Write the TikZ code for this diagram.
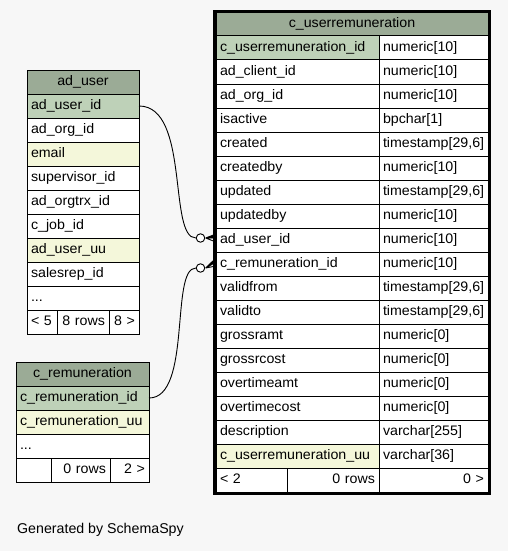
\documentclass[tikz,border=0pt]{standalone}
\usepackage{fontspec}
\setmainfont{Liberation Sans}
\newfontfamily\tblfont{Liberation Sans}[FakeStretch=1.03]
\usetikzlibrary{calc}
\definecolor{bgc}{HTML}{F7F7F7}
\definecolor{headc}{HTML}{9BAB96}
\definecolor{pkc}{HTML}{BED1B8}
\definecolor{idxc}{HTML}{F4F7DA}
\tikzset{
  cellst/.style={draw=black,line width=1pt,anchor=north west,inner xsep=4pt,inner ysep=0pt,outer sep=0pt,font=\tblfont\fontsize{13.8}{16}\selectfont},
  conn/.style={draw=black,line width=0.9pt},
  ringst/.style={circle,draw=black,fill=white,line width=0.9pt,minimum size=8.5pt,inner sep=0pt},
}
% name, x1, y1, x2, y2, fill, align, text
\newcommand\cellbox[8]{%
  \pgfmathsetmacro\cbw{#4-#2}\pgfmathsetmacro\cbh{#5-#3}\pgfmathsetmacro\cbt{#4-#2-8}%
  \node[cellst,fill=#6,minimum width=\cbw pt,minimum height=\cbh pt,text width=\cbt pt,align=#7] (#1) at (#2,#3) {\strut #8};}
\begin{document}
\begin{tikzpicture}[x=1pt,y=-1pt]
\fill[bgc] (0,0) rectangle (508,551);
\useasboundingbox (0,0) rectangle (508,551);
% ---------- ad_user ----------
\cellbox{ah}{27}{70}{139}{94}{headc}{center}{ad\_user}
\cellbox{a1}{27}{94}{139}{118}{pkc}{left}{ad\_user\_id}
\cellbox{a2}{27}{118}{139}{142}{white}{left}{ad\_org\_id}
\cellbox{a3}{27}{142}{139}{166}{idxc}{left}{email}
\cellbox{a4}{27}{166}{139}{190}{white}{left}{supervisor\_id}
\cellbox{a5}{27}{190}{139}{214}{white}{left}{ad\_orgtrx\_id}
\cellbox{a6}{27}{214}{139}{238}{white}{left}{c\_job\_id}
\cellbox{a7}{27}{238}{139}{262}{idxc}{left}{ad\_user\_uu}
\cellbox{a8}{27}{262}{139}{286}{white}{left}{salesrep\_id}
\cellbox{a9}{27}{286}{139}{310}{white}{left}{...}
\cellbox{af1}{27}{310}{57}{334}{white}{left}{< 5}
\cellbox{af2}{57}{310}{109}{334}{white}{right}{8 rows}
\cellbox{af3}{109}{310}{139}{334}{white}{right}{8 >}
% ---------- c_remuneration ----------
\cellbox{rh}{16}{362}{149}{386}{headc}{center}{c\_remuneration}
\cellbox{r1}{16}{386}{149}{410}{pkc}{left}{c\_remuneration\_id}
\cellbox{r2}{16}{410}{149}{434}{idxc}{left}{c\_remuneration\_uu}
\cellbox{r3}{16}{434}{149}{458}{white}{left}{...}
\cellbox{rf1}{16}{458}{51}{482}{white}{left}{}
\cellbox{rf2}{51}{458}{110}{482}{white}{right}{0 rows}
\cellbox{rf3}{110}{458}{149}{482}{white}{right}{2 >}
% ---------- c_userremuneration ----------
\draw[line width=3pt] (214.5,11.5) rectangle (489.5,493.5);
\cellbox{mh}{216}{13}{488}{36}{headc}{center}{c\_userremuneration}
\foreach \nm/\ty/\fc [count=\i from 0] in {
  c\_userremuneration\_id/numeric[10]/pkc,
  ad\_client\_id/numeric[10]/white,
  ad\_org\_id/numeric[10]/white,
  isactive/bpchar[1]/white,
  created/{timestamp[29,6]}/white,
  createdby/numeric[10]/white,
  updated/{timestamp[29,6]}/white,
  updatedby/numeric[10]/white,
  ad\_user\_id/numeric[10]/white,
  c\_remuneration\_id/numeric[10]/white,
  validfrom/{timestamp[29,6]}/white,
  validto/{timestamp[29,6]}/white,
  grossramt/numeric[0]/white,
  grossrcost/numeric[0]/white,
  overtimeamt/numeric[0]/white,
  overtimecost/numeric[0]/white,
  description/varchar[255]/white,
  c\_userremuneration\_uu/varchar[36]/idxc}{
  \pgfmathsetmacro\ya{36+24*\i}\pgfmathsetmacro\yb{60+24*\i}
  \cellbox{mn\i}{216}{\ya}{379}{\yb}{\fc}{left}{\nm}
  \cellbox{mt\i}{379}{\ya}{488}{\yb}{white}{left}{\ty}
}
\cellbox{mf1}{216}{468}{287}{492}{white}{left}{< 2}
\cellbox{mf2}{287}{468}{379}{492}{white}{right}{0 rows}
\cellbox{mf3}{379}{468}{488}{492}{white}{right}{0 >}
% ---------- connectors ----------
\node[ringst] (o1) at (200.5,238) {};
\node[ringst] (o2) at (200.5,268) {};
\draw[conn] (a1.east) .. controls (190,106) and (168,238) .. (o1.west);
\draw[conn] (r1.east) .. controls (192,398) and (170,268) .. (o2.west);
\coordinate (k1) at ($(o1.east)+(0.5,0)$);
\coordinate (k2) at ($(o2.east)+(0.5,0)$);
\fill[black] (k1) -- ($(mn8.west)+(0,-6)$) -- ($(mn8.west)+(0,-2)$) -- cycle;
\draw[conn] (k1) -- ($(mn8.west)+(0,-6)$) (k1) -- ($(mn8.west)+(0,-2)$) (k1) -- ($(mn8.west)+(0,2)$);
\fill[black] (k2) -- ($(mn9.west)+(0,-6)$) -- ($(mn9.west)+(0,-2)$) -- cycle;
\draw[conn] (k2) -- ($(mn9.west)+(0,-6)$) (k2) -- ($(mn9.west)+(0,-2)$) (k2) -- ($(mn9.west)+(0,2)$);
\node[anchor=west,font=\fontsize{14.2}{17}\selectfont,inner sep=0pt] (gen) at (17,530) {Generated by SchemaSpy};
\end{tikzpicture}
\end{document}
